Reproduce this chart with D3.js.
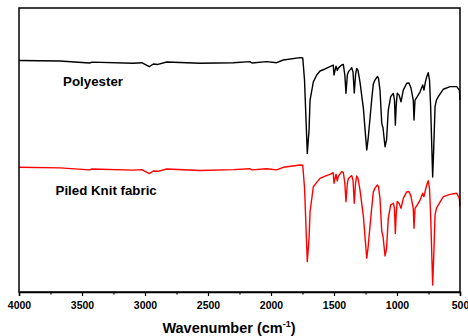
<!DOCTYPE html>
<html>
<head>
<meta charset="utf-8">
<script src="https://cdn.jsdelivr.net/npm/d3@7"></script>
<style>
  html, body { margin: 0; padding: 0; background: #fff; }
  svg { display: block; font-family: "Liberation Sans", Arial, sans-serif; }
</style>
</head>
<body>
<svg id="chart" width="468" height="336"></svg>
<script>
// Wavenumber (cm^-1) sample positions
const wavenumbers = [4000,3675,3440,3420,3095,3026,2966,2934,2897,2828,2563,2299,2167,2151,2034,1955,1902,1770,1748,1734,1712,1698,1690,1664,1637,1611,1571,1532,1506,1500,1484,1474,1466,1439,1426,1414,1405,1394,1386,1359,1349,1339,1329,1320,1310,1294,1267,1250,1240,1230,1201,1188,1175,1156,1147,1135,1121,1111,1095,1083,1069,1050,1040,1029,1020,1013,1006,998,984,968,950,923,905,889,871,865,857,839,817,796,786,775,764,752,742,733,717,709,698,687,672,632,579,526,505,500];

// Transmittance (a.u.), Polyester
const polyester = [81.6,81.4,80.7,81.0,80.6,80.8,79.4,80.35,80.2,81.05,80.6,80.8,81.2,80.7,81.2,80.8,81.75,82.6,82.5,74.7,49.0,57.2,67.7,74.1,76.5,77.9,78.6,79.4,80.0,76.5,79.6,78.1,78.9,80.0,80.2,76.5,70.1,76.5,77.6,79.05,77.5,70.2,76.5,78.8,78.2,74.1,64.9,55.4,50.2,53.7,67.7,73.3,74.7,75.96,75.4,71.2,59.6,57.9,51.3,53.7,64.2,68.9,69.5,70.0,67.7,58.9,66.0,70.1,69.5,67.1,71.2,73.6,73.7,71.9,67.7,60.7,67.7,68.9,70.6,72.98,71.2,74.0,75.9,77.3,74.7,65.4,40.7,50.2,65.4,67.7,68.9,71.5,72.4,72.4,71.2,67.7];

// Transmittance (a.u.), Piled Knit fabric
const piledKnit = [44.1,43.9,43.2,43.5,43.1,43.3,41.9,42.8,42.7,43.5,43.0,43.3,43.6,43.2,43.6,43.2,44.1,44.9,44.8,37.0,11.0,19.3,28.5,37.3,38.8,40.2,41.0,41.6,42.2,38.5,41.7,39.3,40.9,42.6,42.3,38.5,32.0,38.5,40.2,41.2,39.5,31.5,38.5,41.05,40.3,36.3,27.0,17.5,12.2,15.8,29.8,35.4,36.8,37.9,37.4,33.2,21.6,19.9,13.0,15.6,26.2,30.9,31.2,31.5,29.7,20.9,28.0,32.1,31.5,29.7,33.2,35.5,35.6,33.9,29.7,22.7,29.7,30.9,32.6,35.0,33.8,36.0,37.9,39.4,36.7,27.4,2.8,12.2,27.4,29.7,30.9,33.8,34.6,35.0,33.2,30.3];

const seriesNames = ["Polyester", "Piled Knit fabric"];
const seriesColors = ["#000000", "#ff0000"];
const majorTicks = [4000,3500,3000,2500,2000,1500,1000,500];
const minorTicks = [3750,3250,2750,2250,1750,1250,750];

const margin = {top: 8, right: 8, bottom: 44, left: 19};
const W = 468, H = 336;
const iw = W - margin.left - margin.right;   // 441
const ih = H - margin.top - margin.bottom;   // 284

const svg = d3.select("#chart");
const g = svg.append("g").attr("transform", `translate(${margin.left},${margin.top})`);

const x = d3.scaleLinear().domain([4000, 500]).range([0, iw]);
const y = d3.scaleLinear().domain([0, 100]).range([ih + 1, 0]);

const line = d3.line()
  .x(d => x(d[0]))
  .y(d => y(d[1]));

const seriesData = [polyester, piledKnit];
seriesData.forEach((vals, i) => {
  g.append("path")
    .datum(wavenumbers.map((w, k) => [w, vals[k]]))
    .attr("fill", "none")
    .attr("stroke", seriesColors[i])
    .attr("stroke-width", 1.4)
    .attr("stroke-linejoin", "round")
    .attr("d", line);
});

// labels
g.append("text").attr("x", x(3650)).attr("y", 77.5)
  .attr("font-size", 13.3).attr("font-weight", "bold").attr("fill", "#000")
  .text(seriesNames[0]);
g.append("text").attr("x", x(3710)).attr("y", 187)
  .attr("font-size", 13.3).attr("font-weight", "bold").attr("fill", "#000")
  .text(seriesNames[1]);

// frame
g.append("rect").attr("x", 0).attr("y", 0).attr("width", iw).attr("height", ih)
  .attr("fill", "none").attr("stroke", "#000").attr("stroke-width", 1.5);

// axes
const xAxis = d3.axisBottom(x).tickValues(majorTicks).tickSize(4).tickPadding(6)
  .tickFormat(d3.format("d"));
const ax = g.append("g").attr("transform", `translate(0,${ih})`).call(xAxis);
ax.select(".domain").attr("stroke-width", 1.5);
ax.selectAll(".tick line").attr("stroke-width", 1.2);
ax.selectAll(".tick text").attr("font-size", 10.5).attr("font-weight", "bold")
  .attr("font-family", "Liberation Sans, Arial, sans-serif").attr("fill", "#000");

const xMinor = d3.axisBottom(x).tickValues(minorTicks).tickSize(2.5).tickFormat("");
const axm = g.append("g").attr("transform", `translate(0,${ih})`).call(xMinor);
axm.select(".domain").remove();
axm.selectAll(".tick line").attr("stroke-width", 1.2);

// axis title
const t = svg.append("text").attr("x", 229).attr("y", 332.5)
  .attr("text-anchor", "middle").attr("font-size", 14.5).attr("font-weight", "bold").attr("fill", "#000");
t.append("tspan").text("Wavenumber (cm");
t.append("tspan").attr("dy", -5.5).attr("font-size", 9).text("-1");
t.append("tspan").attr("dy", 5.5).text(")");
</script>
</body>
</html>
